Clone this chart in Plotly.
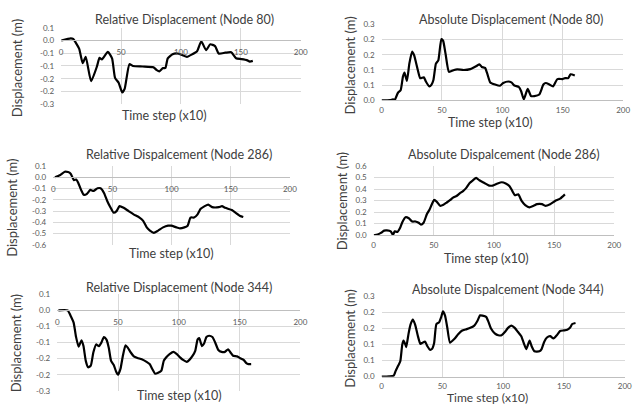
import plotly.graph_objects as go

W, H = 637, 408

# ---------------- data ----------------
t_rel80 = [0, 8, 10, 15, 18, 20.5, 25, 30, 32, 34, 39, 42.5, 45, 48, 51, 53, 57, 60, 68, 77, 79.5, 82, 85, 87, 89,
           93, 97, 101, 105, 109.5, 113.5, 117, 121, 124.5, 128.5, 131.5, 137, 142, 146, 150.5, 155, 157.5, 160]
d_rel80 = [0, 0.008, 0.006, -0.032, -0.089, -0.064, -0.16, -0.10, -0.068, -0.074, -0.045, -0.07, -0.147, -0.166,
           -0.204, -0.19, -0.093, -0.1, -0.102, -0.105, -0.115, -0.121, -0.108, -0.108, -0.07, -0.054, -0.051,
           -0.057, -0.064, -0.054, -0.042, -0.003, -0.038, -0.015, -0.022, -0.051, -0.048, -0.046, -0.07, -0.073,
           -0.077, -0.083, -0.08]

t_abs80 = [0, 7, 9.5, 11, 13.6, 15.8, 17.7, 19, 21, 23, 25.3, 27, 30, 32, 35, 36.7, 39.5, 41.4, 43, 45, 47, 49.5,
           51, 53, 55.8, 60, 62.6, 68, 73.5, 79, 81, 83, 85.7, 87.6, 90, 94, 98, 100.7, 105, 107.5, 110, 113.7,
           115.6, 117.8, 121, 123.8, 126.5, 130.6, 134, 136, 139, 142, 145.6, 150, 152, 154.6, 156.5, 160]
d_abs80 = [0, 0.001, 0.003, 0.002, 0.025, 0.033, 0.078, 0.091, 0.064, 0.121, 0.161, 0.148, 0.1, 0.073, 0.076,
           0.062, 0.046, 0.052, 0.068, 0.121, 0.132, 0.202, 0.196, 0.153, 0.094, 0.1, 0.102, 0.1, 0.103, 0.114,
           0.119, 0.11, 0.107, 0.087, 0.059, 0.052, 0.048, 0.057, 0.062, 0.059, 0.049, 0.044, 0.03, 0.003, 0.038,
           0.014, 0.014, 0.019, 0.052, 0.057, 0.052, 0.046, 0.07, 0.07, 0.073, 0.073, 0.086, 0.082]

t_rel286 = [1.4, 5.5, 9.7, 12.5, 14.7, 17.5, 19.4, 21.3, 23.5, 25.8, 28.5, 31.3, 34, 37.4, 40, 43, 45.7, 48.5, 51,
            53.5, 56, 59.5, 63.7, 67.9, 72.9, 76, 79, 81.7, 85, 88.6, 92.8, 97, 99.7, 104, 106.6, 110.8, 113.6,
            116, 119, 122, 124.6, 128, 131, 134.3, 140, 142.6, 145.4, 151, 154, 158, 160.6]
d_rel286 = [0, 0.017, 0.049, 0.046, 0.032, -0.026, -0.02, -0.055, -0.112, -0.156, -0.147, -0.112, -0.121, -0.098,
            -0.098, -0.141, -0.213, -0.271, -0.314, -0.3, -0.256, -0.271, -0.3, -0.329, -0.357, -0.386, -0.444,
            -0.473, -0.493, -0.473, -0.444, -0.429, -0.429, -0.444, -0.452, -0.444, -0.429, -0.357, -0.357,
            -0.329, -0.28, -0.256, -0.242, -0.265, -0.265, -0.256, -0.271, -0.291, -0.314, -0.343, -0.352]

t_abs286 = [0, 3.3, 6, 8.7, 11, 14.2, 16, 17.5, 19.7, 21.9, 23.8, 26.5, 29.2, 32, 34.7, 37.4, 39.3, 41.5, 44.3,
            46.4, 48.4, 50.3, 52.5, 55.2, 58, 60.7, 63.4, 66, 68.9, 71.6, 74.3, 77, 79.8, 82.5, 85.2, 87.9, 92,
            96, 98.9, 103, 106.5, 109.8, 113, 115.3, 117.5, 120.2, 123, 126, 129.5, 133, 135.8, 140, 142.6,
            146.7, 150.8, 155, 159]
d_abs286 = [0, 0.006, 0.02, 0.04, 0.042, 0.034, 0.002, 0.034, 0.028, 0.062, 0.113, 0.156, 0.147, 0.119, 0.119,
            0.108, 0.091, 0.108, 0.184, 0.221, 0.269, 0.306, 0.289, 0.255, 0.263, 0.283, 0.303, 0.326, 0.34,
            0.363, 0.382, 0.41, 0.453, 0.476, 0.496, 0.476, 0.453, 0.43, 0.43, 0.448, 0.459, 0.448, 0.425,
            0.382, 0.346, 0.354, 0.297, 0.261, 0.241, 0.255, 0.269, 0.269, 0.255, 0.269, 0.297, 0.317, 0.354]

t_rel344 = [1, 8.6, 10.8, 13.5, 15.4, 17.6, 20, 21.6, 23.5, 25.4, 27.6, 29.7, 32, 34.3, 36.2, 38.4, 40.5, 42.4,
            44.3, 46.5, 48.4, 50, 52, 54, 56.2, 58, 60.5, 63, 66, 69.5, 73.5, 76, 78.4, 80.5, 83, 85.7, 87.6,
            89.7, 92.4, 95.7, 98.4, 101, 103.5, 106.5, 108.7, 111.4, 113.5, 115.4, 116.8, 119, 120.8, 122.7,
            124.9, 127.6, 129.8, 132.5, 135.2, 137.9, 140.5, 142.5, 144.6, 147.9, 150.6, 153.3, 155.5, 157.3,
            159.5]
d_rel344 = [0, 0, -0.015, -0.038, -0.081, -0.113, -0.093, -0.111, -0.157, -0.177, -0.172, -0.131, -0.106, -0.111,
            -0.101, -0.083, -0.091, -0.116, -0.157, -0.17, -0.19, -0.2, -0.182, -0.141, -0.109, -0.116, -0.131,
            -0.143, -0.148, -0.152, -0.16, -0.167, -0.184, -0.197, -0.194, -0.187, -0.157, -0.146, -0.136,
            -0.129, -0.136, -0.146, -0.154, -0.16, -0.154, -0.141, -0.126, -0.091, -0.086, -0.111, -0.103,
            -0.083, -0.079, -0.083, -0.099, -0.123, -0.129, -0.129, -0.121, -0.131, -0.141, -0.143, -0.149,
            -0.154, -0.164, -0.167, -0.167]

t_abs344 = [0, 6.2, 10, 11.6, 13.5, 15.4, 17, 18.1, 19.7, 20.3, 22.2, 23.8, 25.7, 27.6, 29.7, 31.9, 33.8, 35.7,
            37.8, 39.7, 41.4, 43.2, 45.1, 47.3, 48.9, 50.5, 52.2, 54, 56.3, 60, 63, 66, 70, 73, 76, 79, 81, 83,
            86, 88, 90, 93.3, 96, 98.7, 101.4, 104, 106.8, 109.5, 112.2, 114.9, 117, 119, 121.7, 123.5, 125.7,
            129.8, 131.6, 133.8, 136, 138.7, 141.4, 144.1, 146.8, 150, 152.7, 154.9, 156.8, 159.5]
d_abs344 = [0, 0.001, 0.003, 0.018, 0.033, 0.048, 0.099, 0.112, 0.099, 0.092, 0.134, 0.162, 0.178, 0.162, 0.129,
            0.102, 0.106, 0.109, 0.094, 0.084, 0.086, 0.104, 0.164, 0.169, 0.184, 0.203, 0.19, 0.154, 0.106,
            0.118, 0.132, 0.143, 0.148, 0.152, 0.158, 0.175, 0.191, 0.19, 0.186, 0.17, 0.15, 0.134, 0.129,
            0.129, 0.139, 0.152, 0.159, 0.152, 0.139, 0.126, 0.104, 0.086, 0.112, 0.094, 0.079, 0.079, 0.086,
            0.109, 0.122, 0.126, 0.119, 0.129, 0.142, 0.144, 0.146, 0.152, 0.164, 0.167]

x_ticks = [0, 50, 100, 150, 200]
x_ticktext = ["0", "50", "100", "150", "200"]
y_ticks_rel = [0.05, 0.0, -0.05, -0.1, -0.15, -0.2, -0.25]
y_text_rel = ["0.1", "0.0", "-0.1", "-0.1", "-0.2", "-0.2", "-0.3"]
y_ticks_abs = [0.0, 0.05, 0.1, 0.15, 0.2, 0.25]
y_text_abs = ["0.0", "0.1", "0.1", "0.2", "0.2", "0.3"]
y_ticks_rel286 = [0.1, 0.0, -0.1, -0.2, -0.3, -0.4, -0.5, -0.6]
y_text_rel286 = ["0.1", "0.0", "-0.1", "-0.2", "-0.3", "-0.4", "-0.5", "-0.6"]
y_ticks_abs286 = [0.0, 0.1, 0.2, 0.3, 0.4, 0.5, 0.6]
y_text_abs286 = ["0.0", "0.1", "0.2", "0.3", "0.4", "0.5", "0.6"]

titles = ["Relative Displacement (Node 80)", "Absolute Displacement (Node 80)",
          "Relative Dispalcement (Node 286)", "Absolute Dispalcement (Node 286)",
          "Relative Displacement (Node 344)", "Absolute Dispalcement (Node 344)"]
y_title = "Displacement (m)"
x_title = "Time step (x10)"

# ---------------- layout helpers ----------------
FONT = "Lato"
GRID = "#d9d9d9"
AXIS = "#bfbfbf"
TICKC = "#595959"
TXTC = "#404040"


def px_x(p):
    return p / W


def px_y(p):
    return 1 - p / H


panels = [
    dict(t=t_rel80, d=d_rel80, yt=y_ticks_rel, ytx=y_text_rel, yr=[-0.25, 0.05], box=(60, 303, 23.3, 101.7),
         title=(185, 15), ytl=(16, 65), xtl=(165, 113), xts=12.5),
    dict(t=t_abs80, d=d_abs80, yt=y_ticks_abs, ytx=y_text_abs, yr=[0, 0.25], box=(385, 630, 20, 97.7),
         title=(516, 15), ytl=(353, 62), xtl=(495, 120.5), xts=12.5),
    dict(t=t_rel286, d=d_rel286, yt=y_ticks_rel286, ytx=y_text_rel286, yr=[-0.6, 0.1], box=(52, 292, 165, 246),
         title=(180, 153), ytl=(10, 208), xtl=(172, 255), xts=12.5),
    dict(t=t_abs286, d=d_abs286, yt=y_ticks_abs286, ytx=y_text_abs286, yr=[0, 0.6], box=(377, 621, 165, 236),
         title=(509, 153), ytl=(345, 201), xtl=(491, 259.5), xts=12.5),
    dict(t=t_rel344, d=d_rel344, yt=y_ticks_rel, ytx=y_text_rel, yr=[-0.25, 0.05], box=(56, 302.7, 296.5, 395.5),
         title=(180, 290), ytl=(15, 347), xtl=(180, 400), xts=12.5),
    dict(t=t_abs344, d=d_abs344, yt=y_ticks_abs, ytx=y_text_abs, yr=[0, 0.25], box=(385, 631.7, 298.7, 381),
         title=(513, 292), ytl=(353, 342), xtl=(492, 402.5), xts=12),
]

fig = go.Figure()
annotations = []
layout = {}
for i, p in enumerate(panels, start=1):
    xa = "x" if i == 1 else f"x{i}"
    ya = "y" if i == 1 else f"y{i}"
    fig.add_trace(go.Scatter(x=p["t"], y=p["d"], mode="lines", xaxis=xa, yaxis=ya,
                             line=dict(color="black", width=2.2, shape="spline", smoothing=0.5),
                             showlegend=False, hoverinfo="skip"))
    x0, x1, yt, yb = p["box"]
    ydom = [px_y(yb), px_y(yt)]
    ymin, ymax = p["yr"]
    xkey = "xaxis" if i == 1 else f"xaxis{i}"
    ykey = "yaxis" if i == 1 else f"yaxis{i}"
    xa_cfg = dict(domain=[px_x(x0), px_x(x1)], range=[0, 200], tickvals=x_ticks, ticktext=x_ticktext,
                  showgrid=True, gridcolor=GRID, gridwidth=1, zeroline=False,
                  showline=True, linecolor=AXIS, linewidth=1, ticks="", ticklabelstandoff=4,
                  tickfont=dict(family=FONT, size=8, color=TICKC), fixedrange=True)
    if ymin < 0:
        # horizontal axis crosses at zero
        zero_pos = ydom[0] + (0 - ymin) / (ymax - ymin) * (ydom[1] - ydom[0])
        xa_cfg.update(anchor="free", position=zero_pos)
    else:
        xa_cfg.update(anchor=ya, ticklabelstandoff=2)
    layout[xkey] = xa_cfg
    layout[ykey] = dict(domain=ydom, range=[ymin, ymax], tickvals=p["yt"], ticktext=p["ytx"], anchor=xa,
                        showgrid=True, gridcolor=GRID, gridwidth=1, zeroline=False,
                        showline=False, ticks="", ticklabelstandoff=6,
                        tickfont=dict(family=FONT, size=8, color=TICKC), fixedrange=True)
    annotations.append(dict(text=titles[i - 1], x=px_x(p["title"][0]), y=px_y(p["title"][1]),
                            xref="paper", yref="paper", showarrow=False, xanchor="center", yanchor="middle",
                            font=dict(family=FONT, size=12.5, color=TXTC)))
    annotations.append(dict(text=y_title, x=px_x(p["ytl"][0]), y=px_y(p["ytl"][1]),
                            xref="paper", yref="paper", showarrow=False, xanchor="center", yanchor="middle",
                            textangle=-90, font=dict(family=FONT, size=13, color=TXTC)))
    annotations.append(dict(text=x_title, x=px_x(p["xtl"][0]), y=px_y(p["xtl"][1]),
                            xref="paper", yref="paper", showarrow=False, xanchor="center", yanchor="middle",
                            font=dict(family=FONT, size=p["xts"], color=TXTC)))

fig.update_layout(**layout)
fig.update_layout(width=W, height=H, margin=dict(l=0, r=0, t=0, b=0),
                  paper_bgcolor="white", plot_bgcolor="white", annotations=annotations,
                  font=dict(family=FONT))

fig.write_html("out.html", config={"displayModeBar": False})
